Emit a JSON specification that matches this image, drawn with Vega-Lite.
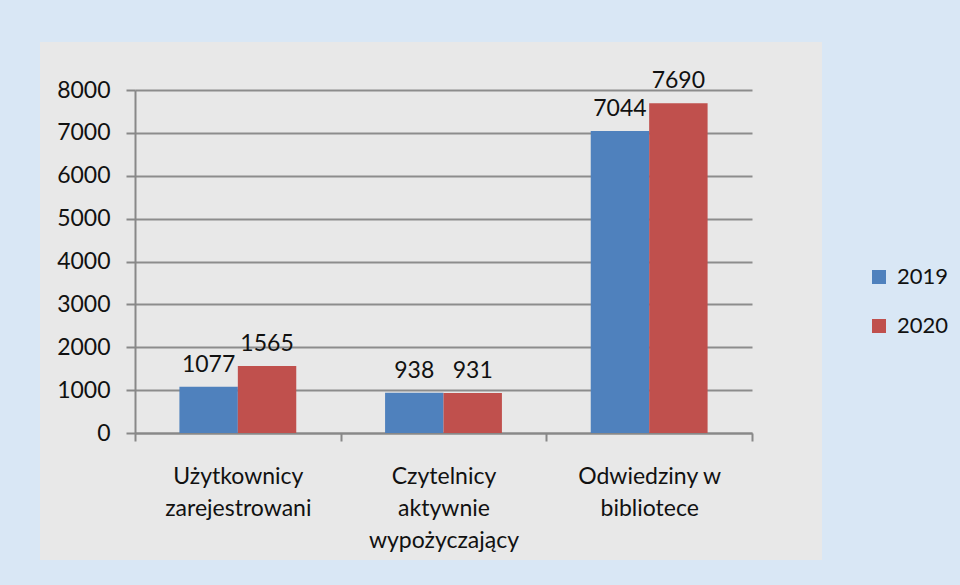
{
  "$schema": "https://vega.github.io/schema/vega-lite/v6.json",
  "width": 782,
  "height": 518,
  "autosize": {"type": "none"},
  "padding": {"left": 40, "top": 42, "right": 138, "bottom": 25},
  "background": "#d9e7f5",
  "config": {
    "view": {"fill": "#e8e8e8", "stroke": null},
    "font": "Lato",
    "text": {"font": "Lato"}
  },
  "data": {
    "values": [
      {"category": "Użytkownicy zarejestrowani", "year": "2019", "value": 1077},
      {"category": "Użytkownicy zarejestrowani", "year": "2020", "value": 1565},
      {"category": "Czytelnicy aktywnie wypożyczający", "year": "2019", "value": 938},
      {"category": "Czytelnicy aktywnie wypożyczający", "year": "2020", "value": 931},
      {"category": "Odwiedziny w bibliotece", "year": "2019", "value": 7044},
      {"category": "Odwiedziny w bibliotece", "year": "2020", "value": 7690}
    ]
  },
  "encoding": {
    "x": {
      "field": "category",
      "type": "nominal",
      "sort": ["Użytkownicy zarejestrowani", "Czytelnicy aktywnie wypożyczający", "Odwiedziny w bibliotece"],
      "scale": {"range": [95, 712], "paddingInner": 0, "paddingOuter": 0},
      "axis": {
        "title": null,
        "offset": -127,
        "labelAngle": 0,
        "tickBand": "extent",
        "domainColor": "#888888",
        "domainWidth": 2,
        "tickColor": "#888888",
        "tickWidth": 2,
        "tickSize": 8,
        "labelFontSize": 23,
        "labelColor": "#111111",
        "labelPadding": 24,
        "labelLineHeight": 32,
        "labelExpr": "datum.value == 'Użytkownicy zarejestrowani' ? ['Użytkownicy', 'zarejestrowani'] : datum.value == 'Czytelnicy aktywnie wypożyczający' ? ['Czytelnicy', 'aktywnie', 'wypożyczający'] : datum.value == 'Odwiedziny w bibliotece' ? ['Odwiedziny w', 'bibliotece'] : ''"
      }
    },
    "xOffset": {
      "field": "year",
      "type": "nominal",
      "scale": {"paddingInner": 0, "paddingOuter": 0.76}
    },
    "y": {
      "field": "value",
      "type": "quantitative",
      "scale": {"domain": [0, 8000], "range": [391, 48], "nice": false},
      "axis": {
        "title": null,
        "offset": -95,
        "values": [0, 1000, 2000, 3000, 4000, 5000, 6000, 7000, 8000],
        "format": "d",
        "domainColor": "#888888",
        "domainWidth": 2,
        "tickColor": "#888888",
        "tickWidth": 2,
        "tickSize": 9,
        "labelFontSize": 23,
        "labelColor": "#111111",
        "labelPadding": 16,
        "grid": true,
        "gridColor": "#8c8c8c",
        "gridWidth": 2
      }
    }
  },
  "layer": [
    {
      "mark": {"type": "bar"},
      "encoding": {
        "color": {
          "field": "year",
          "type": "nominal",
          "scale": {"domain": ["2019", "2020"], "range": ["#4F81BD", "#C0504D"]},
          "legend": {
            "title": null,
            "orient": "none",
            "legendX": 828,
            "legendY": 224,
            "symbolType": "square",
            "symbolSize": 196,
            "symbolStrokeWidth": 0,
            "labelFontSize": 22,
            "labelColor": "#111111",
            "labelOffset": 7,
            "rowPadding": 27
          }
        }
      }
    },
    {
      "mark": {"type": "text", "baseline": "bottom", "dy": -10, "fontSize": 23, "color": "#111111"},
      "encoding": {"text": {"field": "value", "type": "quantitative", "format": "d"}}
    }
  ]
}
